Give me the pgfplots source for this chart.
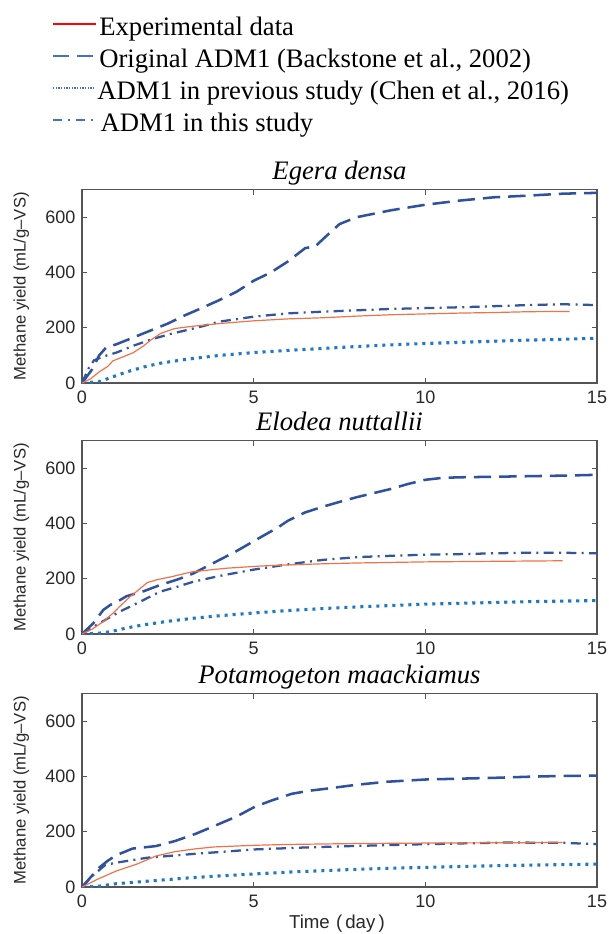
\documentclass[border=0pt]{standalone}
\usepackage{fontspec}
\setmainfont{Liberation Serif}
\setsansfont{Liberation Sans}
\usepackage{pgfplots}
\pgfplotsset{compat=1.18}

\definecolor{expc}{RGB}{240,115,70}
\definecolor{origc}{RGB}{47,82,160}
\definecolor{thisc}{RGB}{50,85,160}
\definecolor{prevc}{RGB}{30,120,200}
\definecolor{legblue}{RGB}{68,114,196}
\definecolor{axcol}{RGB}{85,85,85}
\definecolor{tickcol}{RGB}{40,40,40}

\pgfplotsset{
  panel/.style={
    scale only axis, width=386.25pt, height=145.1pt,
    xmin=0, xmax=15, ymin=0, ymax=700,
    xtick={0,5,10,15}, ytick={0,200,400,600},
    tick align=inside, major tick length=4pt,
    axis line style={axcol, line width=0.8pt},
    major tick style={axcol, line width=0.8pt},
    tick label style={font=\fontsize{13.5}{15}\sffamily, text=tickcol},
    xticklabel style={yshift=-2.5pt},
    yticklabel style={xshift=-1.5pt},
    /pgf/number format/assume math mode=true,
    ylabel={Methane yield (mL/g--VS)},
    ylabel style={font=\fontsize{12.5}{14}\sffamily, text=tickcol,
      at={(axis description cs:-0.118,0.5)}, anchor=center},
    title style={font=\fontsize{20}{24}\selectfont\itshape,
      at={(axis description cs:0.5,1)}, anchor=base, yshift=1.5pt},
  },
  exp/.style={expc, line width=0.9pt},
  orig/.style={origc, line width=1.9pt, dash pattern=on 13pt off 6pt},
  prev/.style={prevc, line width=2.3pt, dash pattern=on 2.3pt off 3.7pt},
  this/.style={thisc, line width=1.7pt, dash pattern=on 7.5pt off 4pt on 1.5pt off 4pt},
}

\begin{document}
\begin{tikzpicture}
\useasboundingbox (0pt,0pt) rectangle (456pt,-700.5pt);

% Egera densa
\begin{axis}[panel, at={(61.5pt,-287.25pt)}, anchor=south west,
    title={Egera densa},
    legend image code/.code={\draw[#1] (0pt,0pt) -- (32pt,0pt);},
    legend cell align=left,
    legend style={at={(axis description cs:-0.0583,1.939)}, anchor=north west,
      draw=none, fill=none, inner sep=0pt, row sep=0pt,
      font=\fontsize{20}{24}\selectfont,
      /tikz/every even column/.append style={column sep=0pt}},
  ]
\addlegendimage{red, solid, line width=1.3pt}
\addlegendentry{\rule[-5pt]{0pt}{23.5pt}Experimental data}
\addlegendimage{legblue, line width=1.3pt, dash pattern=on 12pt off 6pt}
\addlegendentry{\rule[-5pt]{0pt}{23.5pt}Original ADM1 (Backstone et al., 2002)}
\addlegendimage{legblue, line width=1.2pt, dash pattern=on 1pt off 1pt}
\addlegendentry{\rule[-5pt]{0pt}{23.5pt}\hspace{-1.5pt}ADM1 in previous study (Chen et al., 2016)}
\addlegendimage{legblue, line width=1.3pt, dash pattern=on 7pt off 4.5pt on 1.2pt off 4.5pt}
\addlegendentry{\rule[-5pt]{0pt}{23.5pt}\hspace{1pt}ADM1 in this study}

\addplot[prev, forget plot] coordinates {(0,0) (0.5,5) (0.8,18) (1.3,40) (1.8,58)
  (2.3,72) (3,85) (4,100) (5,110) (6,118) (7,125) (8,132) (9,138) (10,143)
  (11,147) (12,151) (13,155) (14,158) (15,162)};
\addplot[orig, forget plot] coordinates {(0,0) (0.3,50) (0.5,100) (0.7,128) (1,140)
  (1.5,165) (2,190) (2.5,215) (3,245) (3.5,272) (4,300) (4.5,330) (5,370)
  (5.5,400) (6,440) (6.5,488) (6.8,495) (7.1,530) (7.5,575) (8,600) (9,625)
  (10,645) (11,660) (12,672) (13,678) (14,685) (15,688)};
\addplot[this, forget plot] coordinates {(0,0) (0.2,55) (0.35,82) (0.6,95) (1,110)
  (1.5,135) (2,157) (2.5,175) (3,190) (3.5,205) (4,222) (5,240) (6,252)
  (7,258) (8,263) (9,268) (10,271) (11,274) (12,278) (13,282) (14,285) (15,282)};
\addplot[exp, forget plot] coordinates {(0,0) (0.25,15) (0.5,40) (0.75,60) (0.9,80)
  (1.2,95) (1.5,110) (1.8,135) (2,155) (2.3,180) (2.7,197) (3.2,205) (4,215)
  (5,225) (6,232) (7,236) (8,242) (9,247) (10,250) (11,253) (12,255) (13,258)
  (14.2,259)};
\end{axis}

% Elodea nuttallii
\begin{axis}[panel, at={(61.5pt,-475.5pt)}, anchor=south west,
    title={Elodea nuttallii}]
\addplot[prev] coordinates {(0,0) (0.5,3) (0.82,8) (1.3,22) (1.79,33) (2.5,46)
  (3.24,57) (4,66) (5,76) (6,85) (7,92) (8,98) (9,103) (10,108) (11,111)
  (12,114) (13,117) (14,119) (15,121)};
\addplot[orig] coordinates {(0,0) (0.33,39) (0.62,87) (0.82,105) (1,115) (1.3,137)
  (1.8,155) (2.27,177) (2.8,198) (3.24,219) (3.8,255) (4.5,300) (5.2,350)
  (5.7,385) (6,410) (6.5,440) (7,460) (7.5,478) (8,495) (8.5,510) (9,525)
  (9.5,543) (10,558) (10.5,565) (11,567) (12,569) (13,571) (14,573) (15,576)};
\addplot[this] coordinates {(0,0) (0.43,33) (0.8,60) (1.1,81) (1.5,105) (1.79,123)
  (2.27,153) (2.8,172) (3.24,189) (4,210) (5,233) (6,252) (7,268) (8,278)
  (9,283) (10,287) (11,289) (12,292) (13,294) (14,294) (15,292)};
\addplot[exp] coordinates {(0,0) (0.3,18) (0.62,45) (0.9,75) (1.1,100) (1.4,135)
  (1.6,155) (1.9,186) (2.2,197) (2.6,207) (3.2,225) (4.2,238) (5.2,246)
  (6,250) (7,254) (8,257) (9,259) (10,261) (11,262) (12,263) (13,264) (14,265)};
\end{axis}

% Potamogeton maackiamus
\begin{axis}[panel, at={(61.5pt,-665.25pt)}, anchor=south west,
    title={Potamogeton maackiamus},
    xlabel={Time\,\,(\,day\,)},
    xlabel style={font=\fontsize{14}{16}\sffamily, text=tickcol,
      at={(axis description cs:0.495,-0.19)}, anchor=center}]
\addplot[prev] coordinates {(0,0) (0.5,3) (1,12) (2,22) (3,32) (4,40) (5,47)
  (6,54) (7,59) (8,64) (9,68) (10,71) (11,74) (12,77) (13,79) (14,81) (15,83)};
\addplot[orig] coordinates {(0,0) (0.25,35) (0.5,70) (0.75,95) (1,115) (1.47,139)
  (2.15,148) (2.7,166) (3.3,192) (3.84,220) (4.5,255) (5.03,290) (5.5,312)
  (6.1,337) (6.6,348) (7.2,357) (8,370) (8.9,381) (10,389) (11,392) (12,395)
  (13,399) (14,402) (15,403)};
\addplot[this] coordinates {(0,0) (0.3,40) (0.68,80) (1,88) (1.9,106) (3.28,120)
  (5.03,136) (6.5,143) (7.8,148) (10,155) (12.3,161) (14,160) (15,155)};
\addplot[exp] coordinates {(0,0) (0.45,28) (1,58) (1.58,82) (2.15,112) (2.71,128)
  (3.3,138) (3.84,145) (5.03,151) (6,154) (7.8,157) (10,159) (12,160) (14,161)};
\end{axis}
\end{tikzpicture}
\end{document}
